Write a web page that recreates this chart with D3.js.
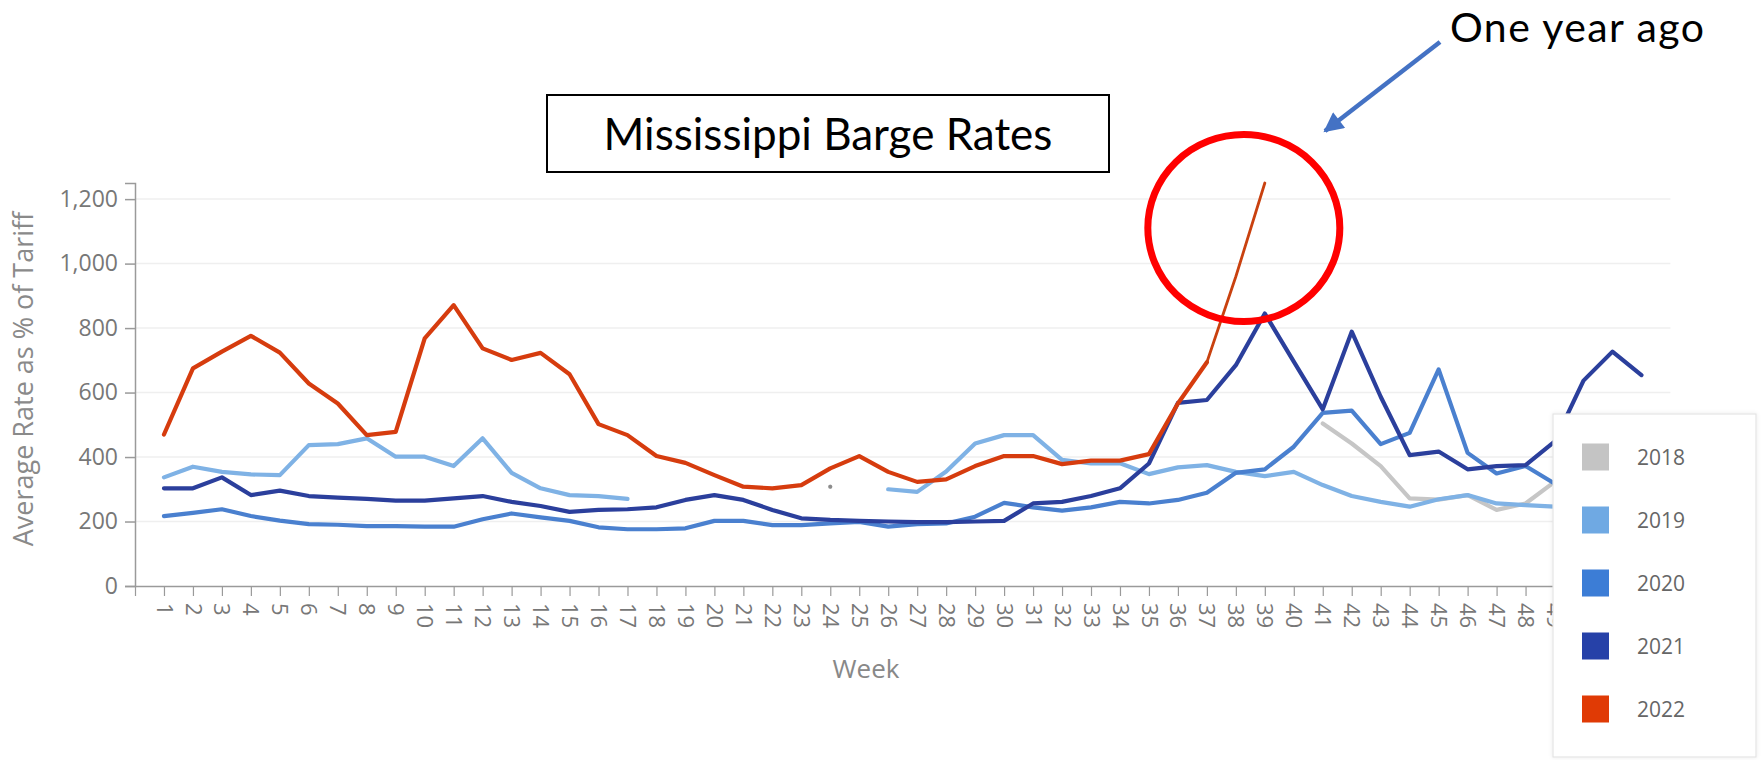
<!DOCTYPE html>
<html>
<head>
<meta charset="utf-8">
<script src="https://cdn.jsdelivr.net/npm/d3@7"></script>
<style>
  html, body { margin: 0; padding: 0; background: #ffffff; }
  svg { display: block; }
</style>
</head>
<body>
<svg id="chart" width="1762" height="760"></svg>
<script>
// Weeks of the year on the x axis
const weeks = d3.range(1, 53);

// Series labels (legend order)
const years = ["2018", "2019", "2020", "2021", "2022"];

// Average barge rate as % of tariff, by week (null = no report)
const rates2018 = [null, null, null, null, null, null, null, null, null, null,
  null, null, null, null, null, null, null, null, null, null,
  null, null, null, 308, null, null, null, null, null, null,
  null, null, null, null, null, null, null, null, null, null,
  504, 442, 372, 272, 268, 282, 236, 256, 323, null, null, null];

const rates2019 = [337, 370, 354, 346, 344, 437, 440, 458, 401, 401,
  372, 458, 351, 303, 282, 279, 270, null, null, null,
  null, null, null, null, null, 300, 292, 355, 442, 468,
  468, 391, 380, 381, 347, 368, 375, 354, 341, 354,
  313, 279, 261, 246, 269, 282, 256, 251, 246, null, null, null];

const rates2020 = [217, 227, 238, 217, 203, 192, 190, 186, 186, 184,
  184, 207, 225, 213, 202, 182, 176, 176, 179, 202,
  202, 189, 189, 194, 199, 184, 192, 194, 215, 258,
  244, 234, 244, 261, 256, 267, 289, 351, 362, 432,
  537, 544, 440, 475, 672, 413, 349, 372, 318, null, null, null];

const rates2021 = [303, 303, 337, 282, 296, 279, 274, 270, 265, 265,
  272, 279, 261, 248, 230, 236, 238, 244, 267, 282,
  267, 236, 210, 205, 202, 200, 198, 198, 200, 202,
  256, 261, 279, 303, 380, 568, 577, 685, 845, 696,
  548, 789, 587, 406, 417, 362, 372, 375, 448, 637, 727, 654];

const rates2022 = [470, 675, 727, 776, 724, 628, 566, 468, 478, 768,
  871, 737, 701, 723, 657, 502, 468, 403, 382, 344,
  308, 303, 313, 365, 403, 354, 323, 331, 372, 403,
  403, 378, 389, 389, 409, 566, 694, 960, 1250, null,
  null, null, null, null, null, null, null, null, null, null, null, null];

// Axis ticks
const yTicks = [0, 200, 400, 600, 800, 1000, 1200];
const xTicks = d3.range(0, 53);

const seriesValues = [rates2018, rates2019, rates2020, rates2021, rates2022];
const lineColors = ["#c6c6c6", "#7fb2e5", "#4a80cf", "#2b3f9c", "#d63c0e"];
const swatchColors = ["#c4c4c4", "#6fa9e3", "#3c7dd6", "#2641a8", "#e03a05"];
// the latest weeks of the current year are drawn with a finer stroke
const thinFromWeek = 37;

const svg = d3.select("#chart");
const FONT = "'Open Sans', 'Noto Sans', sans-serif";

const x = d3.scaleLinear().domain([0, 53]).range([135, 1670.4]);
const y = d3.scaleLinear().domain([0, 1250]).range([586, 183]);

// horizontal gridlines
svg.append("g")
  .selectAll("line")
  .data(yTicks.filter(d => d > 0))
  .join("line")
  .attr("x1", x(0)).attr("x2", x(53))
  .attr("y1", d => y(d)).attr("y2", d => y(d))
  .attr("stroke", "#efefef").attr("stroke-width", 1.5);

// y axis
const yAxis = svg.append("g")
  .attr("transform", `translate(${x(0)},0)`)
  .call(d3.axisLeft(y).tickValues(yTicks).tickSize(10).tickPadding(7).tickFormat(d3.format(",")));
yAxis.select(".domain").attr("stroke", "#9a9a9a").attr("stroke-width", 1.5);
yAxis.selectAll(".tick line").attr("stroke", "#9a9a9a").attr("stroke-width", 1.5);
yAxis.selectAll(".tick text")
  .attr("font-family", FONT).attr("font-size", 23).attr("fill", "#777777");

// x axis
const xAxis = svg.append("g")
  .attr("transform", `translate(0,${y(0)})`)
  .call(d3.axisBottom(x).tickValues(xTicks).tickSize(10).tickSizeOuter(0).tickFormat(d => d === 0 ? "" : d));
xAxis.select(".domain").attr("stroke", "#9a9a9a").attr("stroke-width", 1.5);
xAxis.selectAll(".tick line").attr("stroke", "#9a9a9a").attr("stroke-width", 1.2);
xAxis.selectAll(".tick text")
  .attr("font-family", FONT).attr("font-size", 22).attr("fill", "#777777")
  .attr("text-anchor", "start")
  .attr("x", 17).attr("y", 0).attr("dy", "0.36em")
  .attr("transform", "rotate(90)");

// axis titles
svg.append("text")
  .attr("transform", "translate(33,379) rotate(-90)")
  .attr("text-anchor", "middle")
  .attr("font-family", FONT).attr("font-size", 27).attr("fill", "#8a8a8a")
  .text("Average Rate as % of Tariff");

svg.append("text")
  .attr("x", 866).attr("y", 678)
  .attr("text-anchor", "middle")
  .attr("font-family", FONT).attr("font-size", 26).attr("fill", "#888888")
  .text("Week");

// series lines
const line = d3.line()
  .defined(d => d.v !== null)
  .x(d => x(d.w))
  .y(d => y(d.v));

const plot = svg.append("g");
seriesValues.forEach((vals, i) => {
  const pts = weeks.map((w, k) => ({ w, v: vals[k] }));
  const isCurrent = i === seriesValues.length - 1;
  const main = isCurrent ? pts.map(p => (p.w <= thinFromWeek ? p : { w: p.w, v: null })) : pts;
  plot.append("path")
    .datum(main)
    .attr("d", line)
    .attr("fill", "none")
    .attr("stroke", lineColors[i])
    .attr("stroke-width", 4.2)
    .attr("stroke-linejoin", "round")
    .attr("stroke-linecap", "round");
  if (isCurrent) {
    plot.append("path")
      .datum(pts.filter(p => p.w >= thinFromWeek))
      .attr("d", line)
      .attr("fill", "none")
      .attr("stroke", "#c9410f")
      .attr("stroke-width", 2.8)
      .attr("stroke-linecap", "round");
  }
  // single reported weeks with no neighbours show as a dot
  const lone = pts.filter((p, k) => p.v !== null &&
    (k === 0 || pts[k - 1].v === null) && (k === pts.length - 1 || pts[k + 1].v === null));
  plot.selectAll(null)
    .data(lone)
    .join("circle")
    .attr("cx", d => x(d.w)).attr("cy", d => y(d.v))
    .attr("r", 2)
    .attr("fill", "#8c8c8c");
});

// legend
const defs = svg.append("defs");
const shadow = defs.append("filter").attr("id", "legendShadow")
  .attr("x", "-10%").attr("y", "-10%").attr("width", "120%").attr("height", "120%");
shadow.append("feDropShadow").attr("dx", 0).attr("dy", 0).attr("stdDeviation", 2)
  .attr("flood-color", "#000").attr("flood-opacity", 0.08);

const legend = svg.append("g").attr("transform", "translate(1553,414)");
legend.append("rect")
  .attr("width", 203).attr("height", 343)
  .attr("fill", "#ffffff").attr("stroke", "#e4e4e4").attr("stroke-width", 1.2)
  .attr("filter", "url(#legendShadow)");
const item = legend.selectAll("g.item")
  .data(years)
  .join("g")
  .attr("class", "item")
  .attr("transform", (d, i) => `translate(0,${43 + i * 63})`);
item.append("rect")
  .attr("x", 29).attr("y", -13.5).attr("width", 27).attr("height", 27)
  .attr("fill", (d, i) => swatchColors[i]);
item.append("text")
  .attr("x", 84).attr("y", 0).attr("dy", "0.36em")
  .attr("font-family", FONT).attr("font-size", 21).attr("fill", "#666666")
  .text(d => d);

// headline box
const ANNOT = "Lato, 'Noto Sans', sans-serif";
svg.append("rect")
  .attr("x", 547).attr("y", 95).attr("width", 562).attr("height", 77)
  .attr("fill", "#ffffff").attr("stroke", "#000000").attr("stroke-width", 2);
svg.append("text")
  .attr("x", 828).attr("y", 150)
  .attr("text-anchor", "middle")
  .attr("font-family", ANNOT).attr("font-size", 44).attr("fill", "#000000")
  .text("Mississippi Barge Rates");

// callout around the latest reading
const peakWeek = 39;
const peakVal = rates2022[peakWeek - 1];
svg.append("ellipse")
  .attr("cx", x(peakWeek) - 21).attr("cy", y(peakVal) + 45)
  .attr("rx", 96).attr("ry", 93.5)
  .attr("fill", "none").attr("stroke", "#ff0000").attr("stroke-width", 7);

defs.append("marker").attr("id", "arrowHead")
  .attr("viewBox", "0 0 10 10").attr("refX", 9).attr("refY", 5)
  .attr("markerWidth", 5).attr("markerHeight", 4.4)
  .attr("orient", "auto").attr("markerUnits", "strokeWidth")
  .append("path").attr("d", "M0,0 L10,5 L0,10 Z").attr("fill", "#4472c4");

svg.append("line")
  .attr("x1", 1440).attr("y1", 42).attr("x2", 1325).attr("y2", 131)
  .attr("stroke", "#4472c4").attr("stroke-width", 4.5)
  .attr("marker-end", "url(#arrowHead)");

svg.append("text")
  .attr("x", 1450).attr("y", 42)
  .attr("font-family", ANNOT).attr("font-size", 41).attr("fill", "#000000")
  .attr("textLength", 254).attr("lengthAdjust", "spacing")
  .text("One year ago");
</script>
</body>
</html>
